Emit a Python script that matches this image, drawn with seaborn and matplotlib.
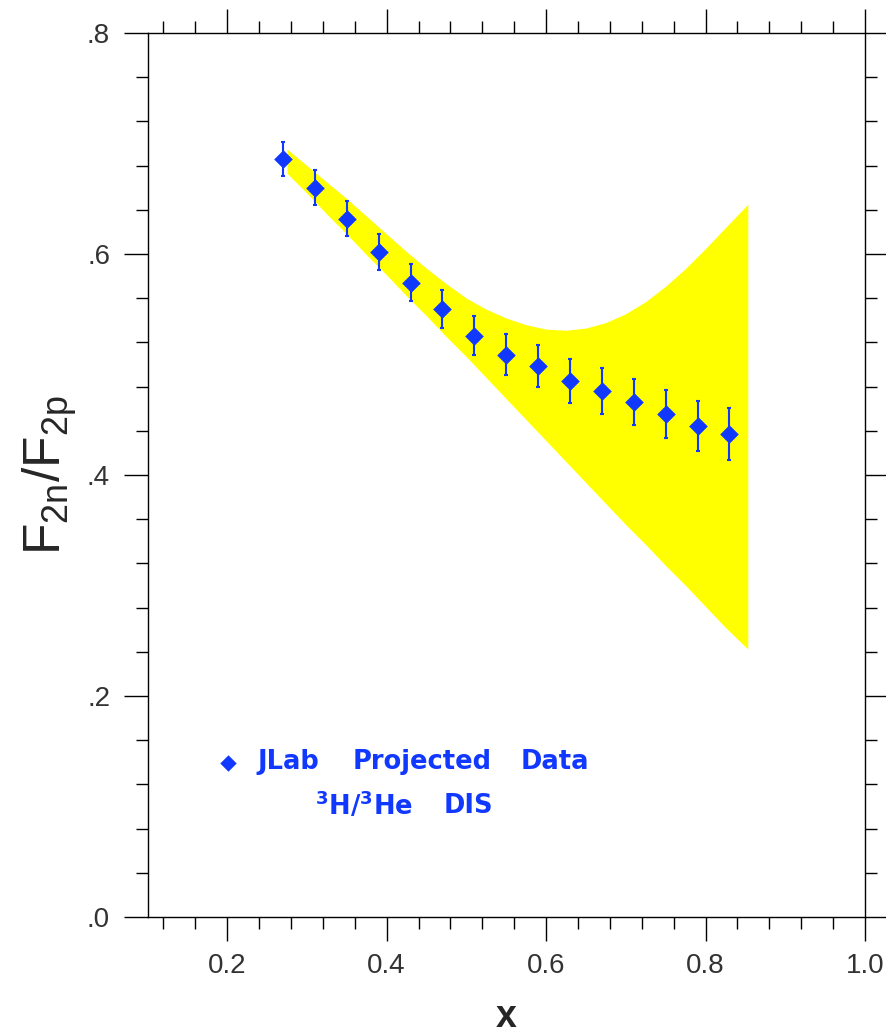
import numpy as np
import pandas as pd
import matplotlib
matplotlib.use("Agg")
import matplotlib.pyplot as plt
from matplotlib.ticker import MultipleLocator, FuncFormatter
import seaborn as sns

# ---- data ----
x_data = [0.27, 0.31, 0.35, 0.39, 0.43, 0.47, 0.51, 0.55, 0.59, 0.63, 0.67, 0.71, 0.75, 0.79, 0.83]
y_data = [0.686, 0.660, 0.632, 0.602, 0.574, 0.550, 0.526, 0.509, 0.499, 0.485,
          0.476, 0.466, 0.455, 0.444, 0.437]
y_err = [0.0154, 0.0158, 0.0158, 0.0163, 0.0167, 0.0172, 0.0176, 0.0186, 0.019, 0.0199,
         0.0208, 0.0208, 0.0217, 0.0226, 0.0235]

band_x = [0.275, 0.30, 0.325, 0.35, 0.375, 0.40, 0.425, 0.45, 0.475, 0.50, 0.525, 0.55,
          0.575, 0.60, 0.625, 0.65, 0.675, 0.70, 0.725, 0.75, 0.775, 0.80, 0.825, 0.853]
band_upper = [0.695, 0.680, 0.665, 0.650, 0.634, 0.618, 0.602, 0.587, 0.573, 0.560, 0.550, 0.542,
              0.536, 0.532, 0.531, 0.533, 0.538, 0.546, 0.557, 0.571, 0.587, 0.605, 0.624, 0.645]
band_lower = [0.673, 0.655, 0.636, 0.618, 0.599, 0.581, 0.562, 0.544, 0.525, 0.507, 0.488, 0.469,
              0.450, 0.431, 0.412, 0.393, 0.374, 0.355, 0.337, 0.318, 0.300, 0.281, 0.262, 0.2425]

legend_line1 = ["JLab", "Projected", "Data"]
legend_line2 = [r"$^{\mathbf{3}}$H/$^{\mathbf{3}}$He", "DIS"]

BLUE = "#1038ff"
YELLOW = "#ffff00"

sns.set_theme(style="white")
plt.rcParams["font.family"] = ["Liberation Sans", "DejaVu Sans"]
plt.rcParams["mathtext.fontset"] = "custom"
plt.rcParams["mathtext.rm"] = "Liberation Sans"
plt.rcParams["mathtext.bf"] = "DejaVu Sans:bold"

fig = plt.figure(figsize=(8.86, 10.35), dpi=100)
ax = fig.add_axes([147.5 / 886, 1 - 917 / 1035, (865 - 147.5) / 886, (917 - 33) / 1035])

# band
ax.fill_between(band_x, band_lower, band_upper, color=YELLOW, linewidth=0, zorder=1)

# data points
df = pd.DataFrame({"x": x_data, "y": y_data, "err": y_err})
ax.errorbar(df["x"], df["y"], yerr=df["err"], fmt="none", ecolor=BLUE,
            elinewidth=1.5, capsize=1.2, capthick=1.5, zorder=2)
sns.scatterplot(data=df, x="x", y="y", ax=ax, marker="D", s=90, color=BLUE,
                edgecolor=BLUE, linewidth=0, zorder=3, legend=False)

# axes
ax.set_xlim(0.1, 1.0)
ax.set_ylim(0.0, 0.8)
ax.xaxis.set_major_locator(MultipleLocator(0.2))
ax.xaxis.set_minor_locator(MultipleLocator(0.04))
ax.yaxis.set_major_locator(MultipleLocator(0.2))
ax.yaxis.set_minor_locator(MultipleLocator(0.04))
ax.xaxis.set_major_formatter(FuncFormatter(lambda v, p: f"{v:.1f}"))
ax.yaxis.set_major_formatter(FuncFormatter(lambda v, p: f"{v:.1f}".replace("0.", ".")))
ax.tick_params(which="both", direction="out", top=True, right=True, bottom=True, left=True,
               colors="black", width=1.0, labelsize=20, labelcolor="#333333")
ax.tick_params(which="major", length=17, pad=9)
ax.tick_params(which="minor", length=8.5)
ax.tick_params(axis="y", which="major", pad=10)
for s in ax.spines.values():
    s.set_color("black")
    s.set_linewidth(1.0)

ax.set_xlabel("x", fontsize=27, fontweight="bold", labelpad=14)
ax.set_ylabel(r"F$_{\mathrm{2n}}$/F$_{\mathrm{2p}}$", fontsize=37, labelpad=6)

# legend (drawn as marker + text)
ax.scatter([0.2013], [0.139], marker="D", s=70, color=BLUE, linewidth=0, zorder=3)
for word, xw in zip(legend_line1, [0.2377, 0.3572, 0.5685]):
    ax.text(xw, 0.1403, word, color=BLUE, fontsize=18.5, fontweight="bold",
            family=["DejaVu Sans"], va="center", ha="left")
for word, xw in zip(legend_line2, [0.3107, 0.4717]):
    ax.text(xw, 0.1005, word, color=BLUE, fontsize=18.5, fontweight="bold",
            family=["DejaVu Sans"], va="center", ha="left")

fig.savefig("out.png", dpi=100)
